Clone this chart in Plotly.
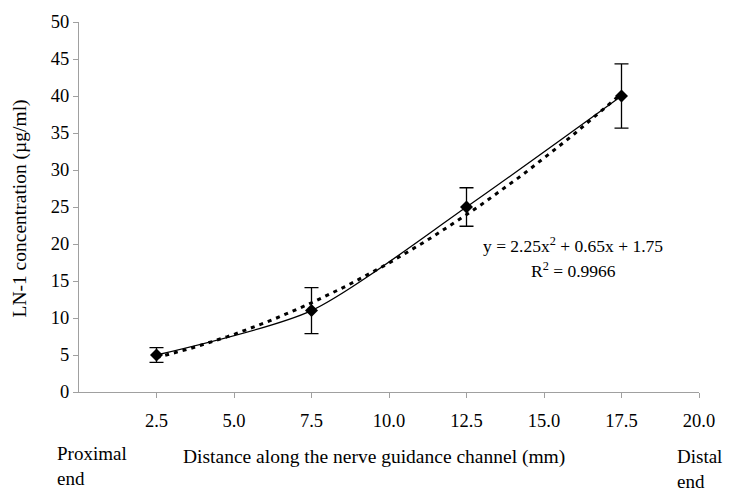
import numpy as np
import plotly.graph_objects as go

# Data
distance_mm = [2.5, 7.5, 12.5, 17.5]
ln1_conc = [5.0, 11.0, 25.0, 40.0]
ln1_err = [1.0, 3.1, 2.6, 4.35]
x_tick_vals = [2.5, 5.0, 7.5, 10.0, 12.5, 15.0, 17.5, 20.0]
x_tick_text = ["2.5", "5.0", "7.5", "10.0", "12.5", "15.0", "17.5", "20.0"]
y_tick_vals = [0, 5, 10, 15, 20, 25, 30, 35, 40, 45, 50]
# Displayed polynomial trendline (x = point index 1..4)
trend_coef = [2.25, 0.65, 1.75]
trend_eq = "y = 2.25x<sup>2</sup> + 0.65x + 1.75"
trend_r2 = "R<sup>2</sup> = 0.9966"

FONT = "Liberation Serif"

# trendline evaluated over the data range
tx = np.linspace(distance_mm[0], distance_mm[-1], 60)
idx = (tx - distance_mm[0]) / (distance_mm[1] - distance_mm[0]) + 1
ty = np.polyval(trend_coef, idx)

fig = go.Figure()
fig.add_trace(go.Scatter(
    x=tx, y=ty, mode="lines",
    line=dict(color="black", width=3, dash="4px,5px"),
    hoverinfo="skip", showlegend=False))
fig.add_trace(go.Scatter(
    x=distance_mm, y=ln1_conc, mode="lines+markers",
    line=dict(color="black", width=1.3, shape="spline", smoothing=0.7),
    marker=dict(symbol="diamond", size=10, color="black"),
    error_y=dict(type="data", array=ln1_err, visible=True,
                 color="black", thickness=1.3, width=7),
    showlegend=False))

fig.update_layout(
    width=729, height=500,
    margin=dict(l=79, r=30, t=19, b=108),
    plot_bgcolor="white", paper_bgcolor="white",
    font=dict(family=FONT, size=18, color="black"),
    xaxis=dict(range=[0, 20], tickvals=x_tick_vals, ticktext=x_tick_text,
               showgrid=False, zeroline=False, showline=True,
               linecolor="#a0a0a0", linewidth=1,
               ticks="outside", ticklen=5, tickcolor="#a0a0a0",
               tickfont=dict(family=FONT, size=18.5, color="black"), ticklabelstandoff=7),
    yaxis=dict(range=[0, 50], tickvals=y_tick_vals,
               showgrid=False, zeroline=False, showline=True,
               linecolor="#a0a0a0", linewidth=1,
               ticks="outside", ticklen=5, tickcolor="#a0a0a0",
               tickfont=dict(family=FONT, size=18.5, color="black")),
)

H = 373.0  # plot height in px
W = 620.0  # plot width in px

def py(p):
    return (392 - p) / H

def px(p):
    return (p - 79) / W

annots = [
    dict(text=trend_eq, x=15.94, y=19.8, xref="x", yref="y", xanchor="center", yanchor="middle", size=17.5),
    dict(text=trend_r2, x=15.94, y=16.5, xref="x", yref="y", xanchor="center", yanchor="middle", size=17.5),
    dict(text="Distance along the nerve guidance channel (mm)", x=px(374), y=py(458),
         xref="paper", yref="paper", xanchor="center", yanchor="middle", size=19.5),
    dict(text="Proximal<br>end", x=px(55), y=py(467), xref="paper", yref="paper",
         xanchor="left", yanchor="middle", align="left", size=19),
    dict(text="Distal<br>end", x=px(675), y=py(470), xref="paper", yref="paper",
         xanchor="left", yanchor="middle", align="left", size=19),
    dict(text="LN-1 concentration (\u00b5g/ml)", x=px(20), y=py(207), xref="paper", yref="paper",
         xanchor="center", yanchor="middle", textangle=-90, size=19.5),
]
for a in annots:
    s = a.pop("size")
    a.update(showarrow=False, font=dict(family=FONT, size=s, color="black"))
    fig.add_annotation(**a)

fig.write_html("out.html", config={"displayModeBar": False},
               post_script="document.body.style.margin='0';")
